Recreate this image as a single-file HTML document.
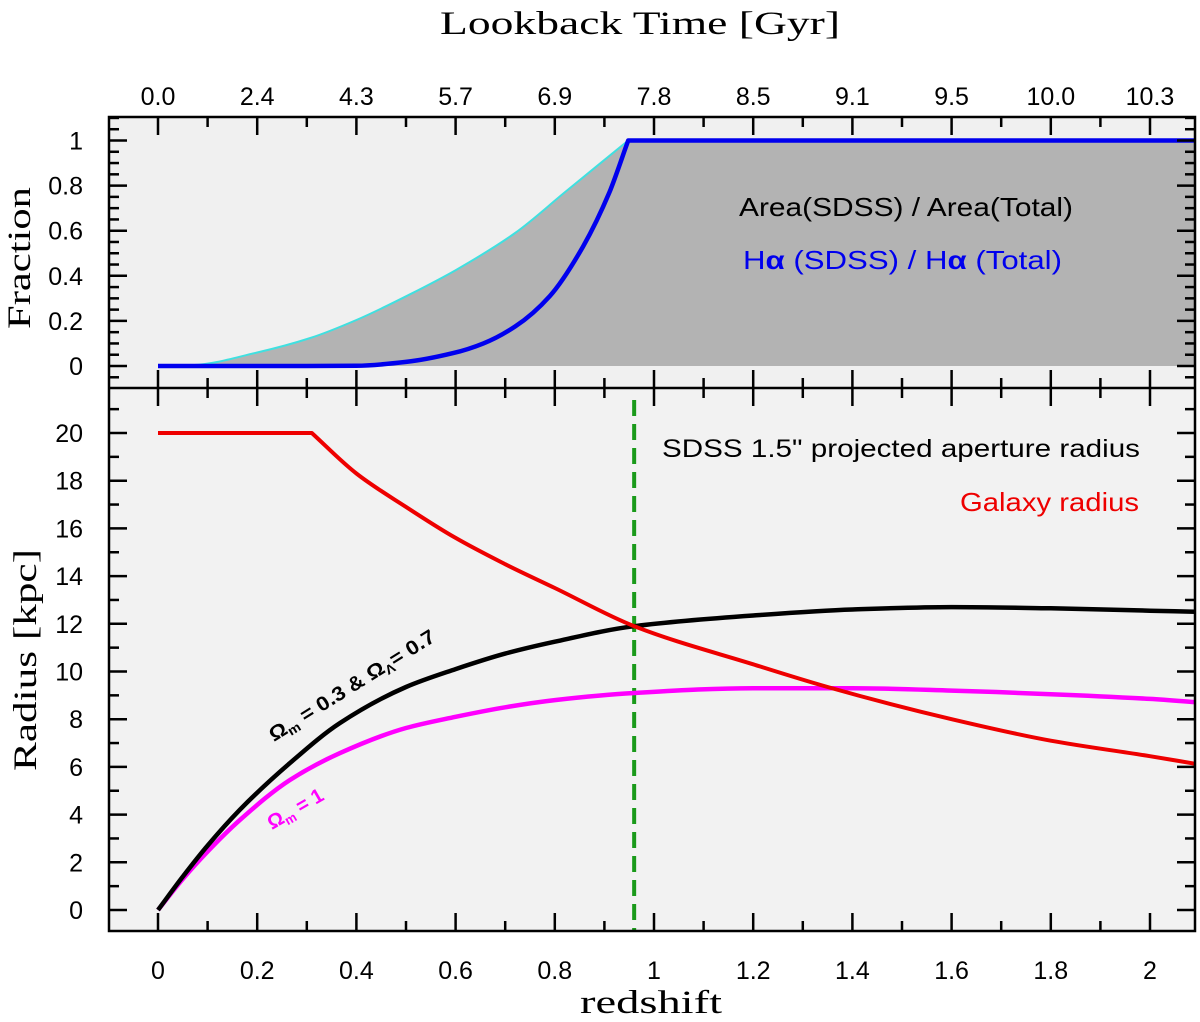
<!DOCTYPE html>
<html><head><meta charset="utf-8"><style>
html,body{margin:0;padding:0;background:#fff;}
svg{display:block;}
</style></head><body>
<svg id="chart" width="1200" height="1022" viewBox="0 0 1200 1022" xmlns="http://www.w3.org/2000/svg"></svg>
<script>
// ---- data ----
const zTicks = [0,0.2,0.4,0.6,0.8,1,1.2,1.4,1.6,1.8,2];
const zTickLabels = ["0","0.2","0.4","0.6","0.8","1","1.2","1.4","1.6","1.8","2"];
const lookbackLabels = ["0.0","2.4","4.3","5.7","6.9","7.8","8.5","9.1","9.5","10.0","10.3"];
const fracTicks = [0,0.2,0.4,0.6,0.8,1];
const fracTickLabels = ["0","0.2","0.4","0.6","0.8","1"];
const radTicks = [0,2,4,6,8,10,12,14,16,18,20];
const radTickLabels = ["0","2","4","6","8","10","12","14","16","18","20"];

const areaZ    = [0,0.07,0.2,0.307,0.4,0.51,0.6,0.72,0.82,0.948];
const areaFrac = [0,0.004,0.06,0.124,0.204,0.32,0.425,0.59,0.77,1];
const haZ      = [0,0.3,0.4,0.5,0.595,0.656,0.72,0.79,0.857,0.91,0.948];
const haFrac   = [0,0,0.001,0.018,0.057,0.10,0.175,0.31,0.53,0.77,1];
const plateauZ = [0.948,2.1];
const plateauFrac = [1,1];

const radZ     = [0,0.05,0.1,0.165,0.266,0.367,0.5,0.6,0.7,0.8,0.96,1.2,1.4,1.6,1.8,2,2.1];
const lcdmR    = [0,1.4,2.7,4.2,6.16,7.84,9.35,10.1,10.75,11.25,11.9,12.35,12.6,12.7,12.65,12.55,12.5];
const eds      = [0,1.3,2.45,3.77,5.45,6.58,7.63,8.1,8.5,8.8,9.1,9.3,9.3,9.2,9.05,8.85,8.7];
const galZ     = [0,0.31,0.4,0.5,0.6,0.7,0.8,0.96,1.2,1.35,1.6,1.8,2,2.1];
const galR     = [20,20,18.3,16.9,15.6,14.5,13.5,11.9,10.3,9.35,8.0,7.1,6.45,6.1];
const aperZ = 0.96;

// ---- axes ----
const L=109,R=1195,T=117,M=388,B=931;
const X=z=>158+496*z;
const YF=f=>366-225.5*f;
const YR=r=>910-23.85*r;
const svg=document.getElementById('chart');
const NS='http://www.w3.org/2000/svg';
function el(tag,attrs,parent){const e=document.createElementNS(NS,tag);for(const k in attrs)e.setAttribute(k,attrs[k]);(parent||svg).appendChild(e);return e;}
function txt(s,attrs){const t=el('text',attrs);t.textContent=s;return t;}
function spline(xs,ys,fy,start){
  const px=xs.map(X), py=ys.map(fy), n=px.length;
  const d=[],m=[];
  for(let i=0;i<n-1;i++)d.push((py[i+1]-py[i])/(px[i+1]-px[i]));
  m[0]=d[0];m[n-1]=d[n-2];
  for(let i=1;i<n-1;i++){ if(d[i-1]*d[i]<=0)m[i]=0; else { const w1=2*(px[i+1]-px[i])+(px[i]-px[i-1]), w2=(px[i+1]-px[i])+2*(px[i]-px[i-1]); m[i]=(w1+w2)/(w1/d[i-1]+w2/d[i]); } }
  let s=(start?'M':'L')+px[0].toFixed(1)+','+py[0].toFixed(1);
  for(let i=0;i<n-1;i++){const h=(px[i+1]-px[i])/3;
    s+=' C'+(px[i]+h).toFixed(1)+','+(py[i]+m[i]*h).toFixed(1)+' '+(px[i+1]-h).toFixed(1)+','+(py[i+1]-m[i+1]*h).toFixed(1)+' '+px[i+1].toFixed(1)+','+py[i+1].toFixed(1);}
  return s;
}
function lin(xs,ys,fy){return xs.map((z,i)=>'L'+X(z).toFixed(1)+','+fy(ys[i]).toFixed(1)).join(' ');}

let e;
e=el('rect',{x:L,y:T,width:R-L,height:M-T,fill:'#f0f0f0'});

e=el('rect',{x:L,y:M,width:R-L,height:B-M,fill:'#f2f2f2'});


const defs=el('defs',{});
const cp=el('clipPath',{id:'clipTop'},defs);el('rect',{x:L,y:T,width:R-L,height:M-T},cp);
const cp2=el('clipPath',{id:'clipBot'},defs);el('rect',{x:L,y:M,width:R-L,height:B-M},cp2);

const gTop=el('g',{'clip-path':'url(#clipTop)'});
const areaPath=spline(areaZ,areaFrac,YF,true)+' '+lin(plateauZ,plateauFrac,YF)+' L'+X(plateauZ[1])+','+YF(0)+' L'+X(0)+','+YF(0)+' Z';
e=el('path',{d:areaPath,fill:'#b3b3b3'},gTop);

e=el('path',{d:spline(areaZ,areaFrac,YF,true),fill:'none',stroke:'#40e0e0','stroke-width':2},gTop);

e=el('path',{d:spline(haZ,haFrac,YF,true)+' '+lin(plateauZ,plateauFrac,YF),fill:'none',stroke:'#0000ee','stroke-width':4.5,'stroke-linejoin':'round'},gTop);


const gBot=el('g',{'clip-path':'url(#clipBot)'});
e=el('line',{x1:X(aperZ),x2:X(aperZ),y1:400,y2:B,stroke:'#1a9a1a','stroke-width':4,'stroke-dasharray':'16,8'},gBot);

e=el('path',{d:spline(radZ,eds,YR,true),fill:'none',stroke:'#ff00ff','stroke-width':4.5},gBot);

e=el('path',{d:spline(radZ,lcdmR,YR,true),fill:'none',stroke:'#000','stroke-width':4.5},gBot);

const galPath='M'+X(galZ[0])+','+YR(galR[0])+' '+spline(galZ.slice(1),galR.slice(1),YR,false);
e=el('path',{d:galPath,fill:'none',stroke:'#ee0000','stroke-width':4,'stroke-linejoin':'round'},gBot);


const tk={stroke:'#000','stroke-width':2.5};
function line(x1,y1,x2,y2){el('line',Object.assign({x1,y1,x2,y2},tk));}
for(let i=-1;i<=21;i++){const z=i/10;const x=X(z);if(x<L||x>R)continue;const len=(i%2===0)?18:10;
  line(x,T,x,T+len); line(x,M,x,M-len); line(x,M,x,M+len); line(x,B,x,B-len);}
for(let i=-2;i<=22;i++){const f=i*0.05;const y=YF(f);if(y<T||y>M)continue;const len=(i%4===0)?18:10;
  line(L,y,L+len,y); line(R,y,R-len,y);}
for(let r=-1;r<=22;r++){const y=YR(r);if(y<M||y>B)continue;const len=(r%2===0)?18:10;
  line(L,y,L+len,y); line(R,y,R-len,y);}

el('rect',{x:L,y:T,width:R-L,height:B-T,fill:'none',stroke:'#000','stroke-width':2.5});
el('line',{x1:L,x2:R,y1:M,y2:M,stroke:'#000','stroke-width':2.5});

const sans='"Liberation Sans", sans-serif';
zTicks.forEach((z,i)=>{
  e=txt(zTickLabels[i],{x:X(z),y:979,'font-family':sans,'font-size':25,'text-anchor':'middle'});
  
  e=txt(lookbackLabels[i],{x:X(z),y:105,'font-family':sans,'font-size':25,'text-anchor':'middle'});
  
});
fracTicks.forEach((f,i)=>{
  e=txt(fracTickLabels[i],{x:83,y:YF(f)+9,'font-family':sans,'font-size':25,'text-anchor':'end'});
  
});
radTicks.forEach((r,i)=>{
  e=txt(radTickLabels[i],{x:83,y:YR(r)+9,'font-family':sans,'font-size':25,'text-anchor':'end'});
  
});

const serif='"Liberation Serif", serif';
e=txt('Lookback Time [Gyr]',{x:440,y:34,'font-family':serif,'font-size':33,textLength:400,lengthAdjust:'spacingAndGlyphs'});

e=txt('redshift',{x:580,y:1013,'font-family':serif,'font-size':33,textLength:142,lengthAdjust:'spacingAndGlyphs'});

e=txt('Fraction',{x:0,y:0,'font-family':serif,'font-size':33,textLength:142,lengthAdjust:'spacingAndGlyphs',transform:'translate(30,329) rotate(-90)'});

e=txt('Radius [kpc]',{x:0,y:0,'font-family':serif,'font-size':33,textLength:222,lengthAdjust:'spacingAndGlyphs',transform:'translate(36,771) rotate(-90)'});


e=txt('Area(SDSS) / Area(Total)',{x:739,y:216,'font-family':sans,'font-size':26,textLength:334,lengthAdjust:'spacingAndGlyphs'});

e=el('text',{x:743,y:269,'font-family':sans,'font-size':26,fill:'#0000ee',textLength:319,lengthAdjust:'spacingAndGlyphs'});
e.innerHTML='H<tspan font-weight="bold">α</tspan>  (SDSS) / H<tspan font-weight="bold">α</tspan>  (Total)';

e=txt('SDSS 1.5" projected aperture radius',{x:662,y:457,'font-family':sans,'font-size':25,textLength:478,lengthAdjust:'spacingAndGlyphs'});

e=txt('Galaxy radius',{x:960,y:511,'font-family':sans,'font-size':26,fill:'#ee0000',textLength:179,lengthAdjust:'spacingAndGlyphs'});

e=el('text',{x:0,y:0,'font-family':sans,'font-size':20,'font-weight':'bold',transform:'translate(274,742) rotate(-32)',textLength:192,lengthAdjust:'spacingAndGlyphs'});
e.innerHTML='Ω<tspan font-size="13" dy="4">m</tspan><tspan dy="-4">  =  0.3  &amp;  Ω</tspan><tspan font-size="13" dy="4">Λ</tspan><tspan dy="-4">=  0.7</tspan>';

e=el('text',{x:0,y:0,'font-family':sans,'font-size':20,'font-weight':'bold',fill:'#ff00ff',transform:'translate(272,830) rotate(-30)'});
e.innerHTML='Ω<tspan font-size="13" dy="4">m</tspan><tspan dy="-4">  =  1</tspan>';

</script>
</body></html>
